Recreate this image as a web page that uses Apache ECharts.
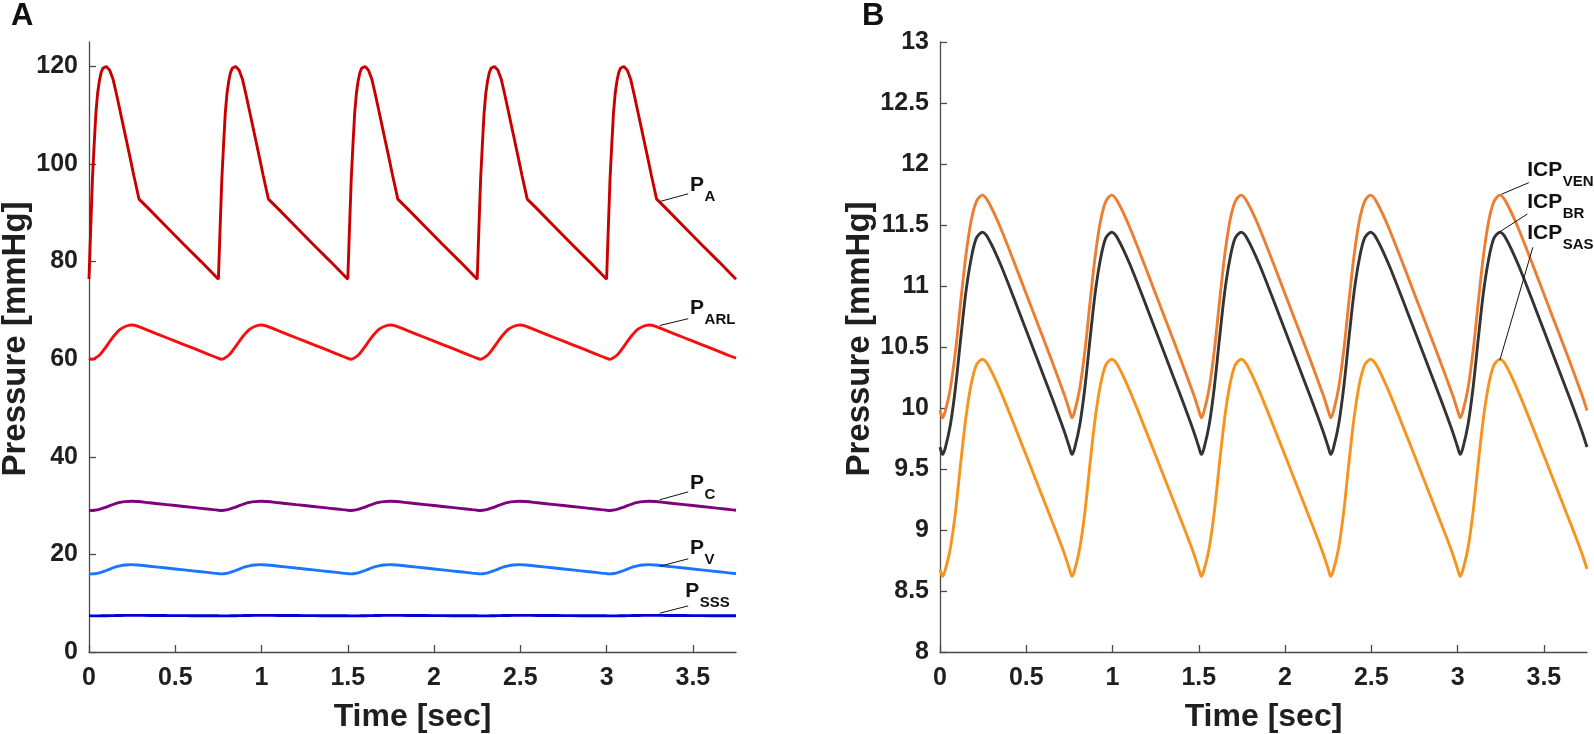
<!DOCTYPE html>
<html><head><meta charset="utf-8">
<script src="https://cdn.jsdelivr.net/npm/echarts@6/dist/echarts.min.js"></script>
<style>html,body{margin:0;padding:0;background:#fff}#c{width:1594px;height:734px}</style>
</head><body><div id="c"></div>
<script>
// ---------- Panel A: time grid for arterial pressure P_A ----------
const timeA = [
  0,0.01,0.02,0.03,0.04,0.05,0.06,0.07,0.08,0.1,0.12,0.14,0.16,0.18,0.2,0.22,0.24,0.26,0.29,0.35,0.45,0.55,0.65,
  0.75,0.76,0.77,0.78,0.79,0.8,0.81,0.82,0.83,0.85,0.87,0.89,0.91,0.93,0.95,0.97,0.99,1.01,1.04,1.1,1.2,1.3,1.4,
  1.5,1.51,1.52,1.53,1.54,1.55,1.56,1.57,1.58,1.6,1.62,1.64,1.66,1.68,1.7,1.72,1.74,1.76,1.79,1.85,1.95,2.05,2.15,
  2.25,2.26,2.27,2.28,2.29,2.3,2.31,2.32,2.33,2.35,2.37,2.39,2.41,2.43,2.45,2.47,2.49,2.51,2.54,2.6,2.7,2.8,2.9,
  3,3.01,3.02,3.03,3.04,3.05,3.06,3.07,3.08,3.1,3.12,3.14,3.16,3.18,3.2,3.22,3.24,3.26,3.29,3.35,3.45,3.55,3.65,
  3.75];
const pA = [
  76.4,87,97,104,110.5,114.5,117,118.7,119.6,120,119.2,117.3,114.2,110.9,107.6,104.3,101,97.6,92.8,90.7,87.1,83.5,80,
  76.4,87,97,104,110.5,114.5,117,118.7,119.6,120,119.2,117.3,114.2,110.9,107.6,104.3,101,97.6,92.8,90.7,87.1,83.5,80,
  76.4,87,97,104,110.5,114.5,117,118.7,119.6,120,119.2,117.3,114.2,110.9,107.6,104.3,101,97.6,92.8,90.7,87.1,83.5,80,
  76.4,87,97,104,110.5,114.5,117,118.7,119.6,120,119.2,117.3,114.2,110.9,107.6,104.3,101,97.6,92.8,90.7,87.1,83.5,80,
  76.4,87,97,104,110.5,114.5,117,118.7,119.6,120,119.2,117.3,114.2,110.9,107.6,104.3,101,97.6,92.8,90.7,87.1,83.5,80,
  76.4];

// ---------- time grid for the smoother curves (both panels) ----------
const timeSmooth = [
  0,0.015,0.03,0.06,0.09,0.12,0.15,0.18,0.21,0.245,0.28,0.35,0.45,0.55,0.65,0.72,
  0.75,0.765,0.78,0.81,0.84,0.87,0.9,0.93,0.96,0.995,1.03,1.1,1.2,1.3,1.4,1.47,
  1.5,1.515,1.53,1.56,1.59,1.62,1.65,1.68,1.71,1.745,1.78,1.85,1.95,2.05,2.15,2.22,
  2.25,2.265,2.28,2.31,2.34,2.37,2.4,2.43,2.46,2.495,2.53,2.6,2.7,2.8,2.9,2.97,
  3,3.015,3.03,3.06,3.09,3.12,3.15,3.18,3.21,3.245,3.28,3.35,3.45,3.55,3.65,3.72,
  3.75];
const pARL = [
  60.2,60.0,60.1,60.8,62.1,63.6,65.0,66.1,66.7,67.0,66.8,65.8,64.4,63.0,61.6,60.6,
  60.2,60.0,60.1,60.8,62.1,63.6,65.0,66.1,66.7,67.0,66.8,65.8,64.4,63.0,61.6,60.6,
  60.2,60.0,60.1,60.8,62.1,63.6,65.0,66.1,66.7,67.0,66.8,65.8,64.4,63.0,61.6,60.6,
  60.2,60.0,60.1,60.8,62.1,63.6,65.0,66.1,66.7,67.0,66.8,65.8,64.4,63.0,61.6,60.6,
  60.2,60.0,60.1,60.8,62.1,63.6,65.0,66.1,66.7,67.0,66.8,65.8,64.4,63.0,61.6,60.6,
  60.2];
const pC = [
  29.06,29.0,29.04,29.23,29.57,29.99,30.37,30.65,30.82,30.9,30.84,30.58,30.2,29.82,29.44,29.17,
  29.06,29.0,29.04,29.23,29.57,29.99,30.37,30.65,30.82,30.9,30.84,30.58,30.2,29.82,29.44,29.17,
  29.06,29.0,29.04,29.23,29.57,29.99,30.37,30.65,30.82,30.9,30.84,30.58,30.2,29.82,29.44,29.17,
  29.06,29.0,29.04,29.23,29.57,29.99,30.37,30.65,30.82,30.9,30.84,30.58,30.2,29.82,29.44,29.17,
  29.06,29.0,29.04,29.23,29.57,29.99,30.37,30.65,30.82,30.9,30.84,30.58,30.2,29.82,29.44,29.17,
  29.06];
const pV = [
  16.06,16.0,16.04,16.23,16.57,16.99,17.37,17.65,17.82,17.9,17.84,17.58,17.2,16.82,16.44,16.17,
  16.06,16.0,16.04,16.23,16.57,16.99,17.37,17.65,17.82,17.9,17.84,17.58,17.2,16.82,16.44,16.17,
  16.06,16.0,16.04,16.23,16.57,16.99,17.37,17.65,17.82,17.9,17.84,17.58,17.2,16.82,16.44,16.17,
  16.06,16.0,16.04,16.23,16.57,16.99,17.37,17.65,17.82,17.9,17.84,17.58,17.2,16.82,16.44,16.17,
  16.06,16.0,16.04,16.23,16.57,16.99,17.37,17.65,17.82,17.9,17.84,17.58,17.2,16.82,16.44,16.17,
  16.06];
const pSSS = [
  7.42,7.40,7.40,7.41,7.43,7.45,7.47,7.49,7.50,7.50,7.50,7.49,7.47,7.45,7.43,7.42,
  7.42,7.40,7.40,7.41,7.43,7.45,7.47,7.49,7.50,7.50,7.50,7.49,7.47,7.45,7.43,7.42,
  7.42,7.40,7.40,7.41,7.43,7.45,7.47,7.49,7.50,7.50,7.50,7.49,7.47,7.45,7.43,7.42,
  7.42,7.40,7.40,7.41,7.43,7.45,7.47,7.49,7.50,7.50,7.50,7.49,7.47,7.45,7.43,7.42,
  7.42,7.40,7.40,7.41,7.43,7.45,7.47,7.49,7.50,7.50,7.50,7.49,7.47,7.45,7.43,7.42,
  7.42];

// ---------- Panel B ----------
const icpVEN = [
  9.98,9.92,9.97,10.16,10.47,10.87,11.25,11.53,11.69,11.745,11.69,11.48,11.12,10.75,10.38,10.11,
  9.98,9.92,9.97,10.16,10.47,10.87,11.25,11.53,11.69,11.745,11.69,11.48,11.12,10.75,10.38,10.11,
  9.98,9.92,9.97,10.16,10.47,10.87,11.25,11.53,11.69,11.745,11.69,11.48,11.12,10.75,10.38,10.11,
  9.98,9.92,9.97,10.16,10.47,10.87,11.25,11.53,11.69,11.745,11.69,11.48,11.12,10.75,10.38,10.11,
  9.98,9.92,9.97,10.16,10.47,10.87,11.25,11.53,11.69,11.745,11.69,11.48,11.12,10.75,10.38,10.11,
  9.98];
const icpBR = [
  9.68,9.62,9.67,9.86,10.17,10.57,10.95,11.22,11.39,11.44,11.39,11.18,10.82,10.45,10.08,9.81,
  9.68,9.62,9.67,9.86,10.17,10.57,10.95,11.22,11.39,11.44,11.39,11.18,10.82,10.45,10.08,9.81,
  9.68,9.62,9.67,9.86,10.17,10.57,10.95,11.22,11.39,11.44,11.39,11.18,10.82,10.45,10.08,9.81,
  9.68,9.62,9.67,9.86,10.17,10.57,10.95,11.22,11.39,11.44,11.39,11.18,10.82,10.45,10.08,9.81,
  9.68,9.62,9.67,9.86,10.17,10.57,10.95,11.22,11.39,11.44,11.39,11.18,10.82,10.45,10.08,9.81,
  9.68];
const icpSAS = [
  8.68,8.62,8.67,8.85,9.15,9.55,9.92,10.19,10.35,10.40,10.35,10.14,9.79,9.43,9.07,8.81,
  8.68,8.62,8.67,8.85,9.15,9.55,9.92,10.19,10.35,10.40,10.35,10.14,9.79,9.43,9.07,8.81,
  8.68,8.62,8.67,8.85,9.15,9.55,9.92,10.19,10.35,10.40,10.35,10.14,9.79,9.43,9.07,8.81,
  8.68,8.62,8.67,8.85,9.15,9.55,9.92,10.19,10.35,10.40,10.35,10.14,9.79,9.43,9.07,8.81,
  8.68,8.62,8.67,8.85,9.15,9.55,9.92,10.19,10.35,10.40,10.35,10.14,9.79,9.43,9.07,8.81,
  8.68];

// ---------- tick labels ----------
const xTicks = [0,0.5,1,1.5,2,2.5,3,3.5];
const yTicksA = [0,20,40,60,80,100,120];
const yTicksB = [8,8.5,9,9.5,10,10.5,11,11.5,12,12.5,13];

// ---------- annotations: [name, subscript, leaderStart, leaderEnd, textAnchor] ----------
const labelsA = [
  ['P','A',   [3.308,92.3],[3.473,93.9],[3.484,95.6]],
  ['P','ARL', [3.308,66.9],[3.473,68.3],[3.484,70.46]],
  ['P','C',   [3.308,31.2],[3.473,32.8],[3.484,34.53]],
  ['P','V',   [3.308,17.55],[3.473,19.1],[3.484,21.3]],
  ['P','SSS', [3.308,7.95],[3.473,9.45],[3.456,12.41]]
];
const labelsB = [
  ['ICP','VEN',[3.254,11.752],[3.413,11.847],[3.403,11.947]],
  ['ICP','BR', [3.245,11.445],[3.404,11.59],[3.403,11.683]],
  ['ICP','SAS',[3.245,10.393],[3.436,11.317],[3.403,11.433]]
];

const FONT = '"Liberation Sans", Arial, Helvetica, sans-serif';
const TXT = '#1f1f1f';
const AX = '#4a4a4a';

function xAxisCfg(gi){
  return {
    type:'value', gridIndex:gi, min:0, max:3.75, interval:0.5,
    axisLine:{show:true, onZero:false, lineStyle:{color:AX, width:1.3}},
    axisTick:{show:true, inside:true, length:7, customValues:xTicks, lineStyle:{color:AX, width:1.3}},
    axisLabel:{customValues:xTicks, fontSize:25, fontWeight:'bold', color:TXT, fontFamily:FONT, margin:14},
    splitLine:{show:false},
    name:'Time [sec]', nameLocation:'middle', nameGap:49,
    nameTextStyle:{fontSize:32, fontWeight:'bold', color:TXT, fontFamily:FONT}
  };
}
function yAxisCfg(gi, min, max, interval, ticks){
  return {
    type:'value', gridIndex:gi, min:min, max:max, interval:interval,
    axisLine:{show:true, onZero:false, lineStyle:{color:AX, width:1.3}},
    axisTick:{show:true, inside:true, length:7, customValues:ticks, lineStyle:{color:AX, width:1.3}},
    axisLabel:{customValues:ticks, fontSize:25, fontWeight:'bold', color:TXT, fontFamily:FONT, margin:11},
    splitLine:{show:false},
    name:'Pressure [mmHg]', nameLocation:'middle', nameGap:57,
    nameTextStyle:{fontSize:33, fontWeight:'bold', color:TXT, fontFamily:FONT, padding:[0,0,0,16]}
  };
}
function lineSeries(name, xi, times, vals, color, smooth, leader){
  const s = {
    name:name, type:'line', xAxisIndex:xi, yAxisIndex:xi,
    data: times.map((t,i)=>[t, vals[i]]),
    showSymbol:false, symbol:'none', smooth:smooth,
    lineStyle:{color:color, width:2.9}, itemStyle:{color:color},
    silent:true, animation:false
  };
  if (leader) {
    s.markLine = {
      silent:true, symbol:'none', animation:false,
      label:{show:false},
      lineStyle:{color:'#111', width:1, type:'solid'},
      emphasis:{disabled:true},
      data:[[{coord:leader[0]},{coord:leader[1]}]]
    };
  }
  return s;
}

const chart = echarts.init(document.getElementById('c'), null, {renderer:'canvas'});
const option = {
  animation:false,
  backgroundColor:'#fff',
  grid:[
    {left:89, top:42, width:647, height:610, containLabel:false, outerBoundsMode:'none'},
    {left:940, top:42, width:647, height:610, containLabel:false, outerBoundsMode:'none'}
  ],
  xAxis:[xAxisCfg(0), xAxisCfg(1)],
  yAxis:[yAxisCfg(0,0,125,20,yTicksA), yAxisCfg(1,8,13,0.5,yTicksB)],
  series:[
    lineSeries('P_A',0,timeA,pA,'#C80000',false,[labelsA[0][2],labelsA[0][3]]),
    lineSeries('P_ARL',0,timeSmooth,pARL,'#F51010',0.35,[labelsA[1][2],labelsA[1][3]]),
    lineSeries('P_C',0,timeSmooth,pC,'#7D007D',0.35,[labelsA[2][2],labelsA[2][3]]),
    lineSeries('P_V',0,timeSmooth,pV,'#1976FF',0.35,[labelsA[3][2],labelsA[3][3]]),
    lineSeries('P_SSS',0,timeSmooth,pSSS,'#0000DC',0.35,[labelsA[4][2],labelsA[4][3]]),
    lineSeries('ICP_VEN',1,timeSmooth,icpVEN,'#ED7D31',0.3,[labelsB[0][2],labelsB[0][3]]),
    lineSeries('ICP_BR',1,timeSmooth,icpBR,'#333333',0.3,[labelsB[1][2],labelsB[1][3]]),
    lineSeries('ICP_SAS',1,timeSmooth,icpSAS,'#F7941D',0.3,[labelsB[2][2],labelsB[2][3]])
  ]
};
chart.setOption(option);

// text annotations placed via the chart's own coordinate conversion
const MAINF = 'bold 21px ' + FONT;
const SUBF = 'bold 15px ' + FONT;
const mctx = document.createElement('canvas').getContext('2d');
const graphics = [
  {type:'text', x:11, y:16, silent:true, style:{text:'A', font:'bold 31px '+FONT, fill:'#111', textVerticalAlign:'middle'}},
  {type:'text', x:862, y:16, silent:true, style:{text:'B', font:'bold 31px '+FONT, fill:'#111', textVerticalAlign:'middle'}}
];
function addLabels(list, gi){
  list.forEach(l=>{
    const p = chart.convertToPixel({gridIndex:gi}, l[4]);
    mctx.font = MAINF;
    const w = mctx.measureText(l[0]).width;
    graphics.push({type:'text', x:p[0], y:p[1], silent:true,
      style:{text:l[0], font:MAINF, fill:'#111', textAlign:'left', textVerticalAlign:'middle'}});
    graphics.push({type:'text', x:p[0]+w+0.5, y:p[1]+11.5, silent:true,
      style:{text:l[1], font:SUBF, fill:'#111', textAlign:'left', textVerticalAlign:'middle'}});
  });
}
addLabels(labelsA,0);
addLabels(labelsB,1);
chart.setOption({graphic:graphics});
</script>
</body></html>
